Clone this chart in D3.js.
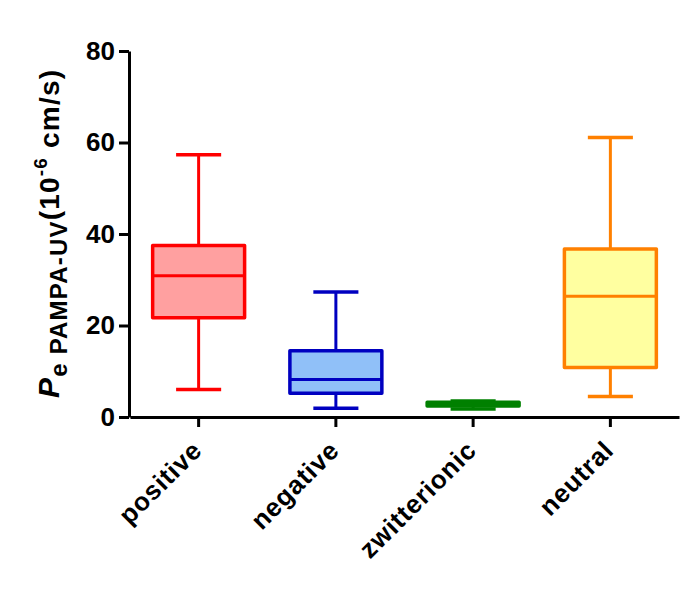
<!DOCTYPE html>
<html>
<head>
<meta charset="utf-8">
<script src="https://cdn.jsdelivr.net/npm/d3@7"></script>
<style>
  body { margin: 0; background: #fff; }
  text { font-family: "Liberation Sans", Arial, sans-serif; font-weight: bold; }
</style>
</head>
<body>
<div id="chart"></div>
<script>
// categories and box statistics (10^-6 cm/s)
const categories = ["positive", "negative", "zwitterionic", "neutral"];
const minVals    = [6.0, 1.9, 1.75, 4.5];
const q1Vals     = [21.7, 5.2, 2.4, 10.8];
const medianVals = [30.9, 8.2, 2.8, 26.4];
const q3Vals     = [37.5, 14.5, 3.2, 36.7];
const maxVals    = [57.3, 27.3, 3.5, 61.1];
const yTicks     = [0, 20, 40, 60, 80];

const strokeColors = ["#ff0000", "#0000c0", "#008000", "#ff8000"];
const fillColors   = ["#ffa0a0", "#90c0f8", "#008000", "#ffffa0"];

const boxes = categories.map((c, i) => ({
  cat: c, min: minVals[i], q1: q1Vals[i], med: medianVals[i], q3: q3Vals[i], max: maxVals[i],
  stroke: strokeColors[i], fill: fillColors[i]
}));

const width = 697, height = 590;

const svg = d3.select("#chart")
  .append("svg")
    .attr("width", width)
    .attr("height", height)
    .style("background", "#fff");

const x = d3.scaleBand()
  .domain(categories)
  .range([130, 679]);

const y = d3.scaleLinear()
  .domain([0, 80])
  .range([417, 51]);

const boxW = x.bandwidth() * 0.67;
const capW = boxW * 0.49;

// one group per category
const g = svg.selectAll(".box")
  .data(boxes)
  .enter()
  .append("g")
    .attr("class", "box")
    .attr("transform", d => `translate(${x(d.cat) + x.bandwidth() / 2},0)`);

// whiskers
g.append("line")
  .attr("x1", 0).attr("x2", 0)
  .attr("y1", d => y(d.max)).attr("y2", d => y(d.q3))
  .attr("stroke", d => d.stroke).attr("stroke-width", 3);
g.append("line")
  .attr("x1", 0).attr("x2", 0)
  .attr("y1", d => y(d.q1)).attr("y2", d => y(d.min))
  .attr("stroke", d => d.stroke).attr("stroke-width", 3);

// caps
["max", "min"].forEach(k => {
  g.append("line")
    .attr("x1", -capW / 2).attr("x2", capW / 2)
    .attr("y1", d => y(d[k])).attr("y2", d => y(d[k]))
    .attr("stroke", d => d.stroke).attr("stroke-width", 3.5);
});

g.append("rect")
  .attr("x", -boxW / 2)
  .attr("width", boxW)
  .attr("y", d => y(d.q3))
  .attr("height", d => y(d.q1) - y(d.q3))
  .attr("fill", d => d.fill)
  .attr("stroke", d => d.stroke)
  .attr("stroke-width", 3.5)
  .attr("stroke-linejoin", "round");

g.append("line")
  .attr("x1", -boxW / 2).attr("x2", boxW / 2)
  .attr("y1", d => y(d.med)).attr("y2", d => y(d.med))
  .attr("stroke", d => d.stroke).attr("stroke-width", 3);

// y axis
const yAxis = svg.append("g")
  .attr("transform", "translate(129,0)")
  .call(d3.axisLeft(y).tickValues(yTicks).tickSize(10).tickSizeOuter(0).tickPadding(4));

// x axis
const xAxis = svg.append("g")
  .attr("transform", "translate(0,417)")
  .call(d3.axisBottom(x).tickSize(10).tickSizeOuter(0).tickFormat(""));

[yAxis, xAxis].forEach(a => {
  a.select(".domain").attr("stroke", "#000").attr("stroke-width", 3);
  a.selectAll(".tick line").attr("stroke", "#000").attr("stroke-width", 3);
});
yAxis.selectAll(".tick text")
  .attr("fill", "#000")
  .style("font-size", "26px");

// rotated category labels
svg.selectAll(".xlabel")
  .data(categories)
  .enter()
  .append("text")
    .attr("class", "xlabel")
    .attr("transform", d => `translate(${x(d) + x.bandwidth() / 2 - 8},439) rotate(-45)`)
    .attr("text-anchor", "end")
    .attr("dy", "0.7em")
    .style("font-size", "26px")
    .style("letter-spacing", "0.8px")
    .attr("fill", "#000")
    .text(d => d);

// y axis title
const title = svg.append("text")
  .attr("transform", "translate(59,398) rotate(-90)")
  .attr("text-anchor", "start")
  .style("letter-spacing", "1.2px")
  .attr("fill", "#000");
title.append("tspan").style("font-size", "30px").style("font-style", "italic").text("P");
title.append("tspan").style("font-size", "24px").attr("dy", 8).text("e PAMPA-UV");
title.append("tspan").style("font-size", "28px").attr("dy", -8).text("(10");
title.append("tspan").style("font-size", "19px").attr("dy", -12).text("-6");
title.append("tspan").style("font-size", "28px").attr("dy", 12).text(" cm/s)");
</script>
</body>
</html>
